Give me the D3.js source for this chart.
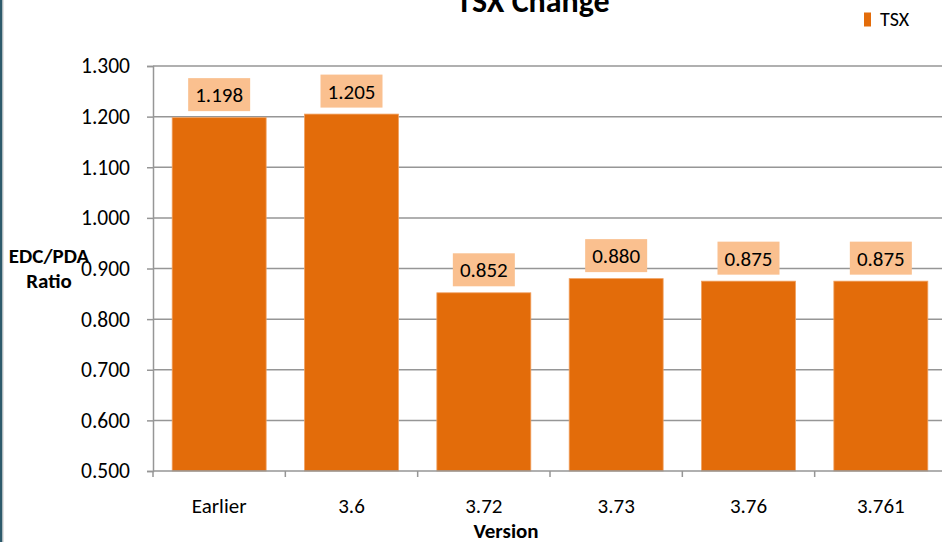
<!DOCTYPE html>
<html><head><meta charset="utf-8">
<script src="https://cdn.jsdelivr.net/npm/d3@7"></script>
<style>body{margin:0;background:#fff}svg{display:block}</style>
</head><body>
<script>
const categories = ["Earlier","3.6","3.72","3.73","3.76","3.761"];
const values = [1.198,1.205,0.852,0.880,0.875,0.875];
const yTicks = [0.5,0.6,0.7,0.8,0.9,1.0,1.1,1.2,1.3];
const seriesName = "TSX";

const W=942,H=542;
const font='Carlito, Calibri, "Liberation Sans", sans-serif';
const svg=d3.select("body").append("svg").attr("width",W).attr("height",H);
svg.append("rect").attr("width",W).attr("height",H).attr("fill","#fff");
// left frame
svg.append("rect").attr("x",0).attr("y",0).attr("width",2.5).attr("height",H).attr("fill","#2d5a6b");
svg.append("rect").attr("x",2.5).attr("y",0).attr("width",1).attr("height",H).attr("fill","#c8c8c8");

const x=d3.scaleBand().domain(categories).range([153,947]).paddingInner(0.29).paddingOuter(0.145);
const y=d3.scaleLinear().domain([0.5,1.3]).range([471,66]);

// gridlines
svg.append("g").selectAll("line").data(yTicks.slice(1)).join("line")
  .attr("x1",153).attr("x2",W).attr("y1",d=>y(d)).attr("y2",d=>y(d))
  .attr("stroke","#969696").attr("stroke-width",1.5);

// y axis
const ya=svg.append("g").attr("transform","translate(153,0)")
  .call(d3.axisLeft(y).tickValues(yTicks).tickFormat(d3.format(".3f")).tickSize(6).tickPadding(17));
ya.select(".domain").attr("stroke","#969696").attr("stroke-width",1.5);
ya.selectAll(".tick line").attr("stroke","#969696").attr("stroke-width",1.5);
ya.selectAll("text").attr("font-family",font).attr("font-size",21.5).attr("fill","#000");

// bars
svg.append("g").selectAll("rect").data(values).join("rect")
  .attr("x",(d,i)=>x(categories[i])).attr("width",x.bandwidth())
  .attr("y",d=>y(d)).attr("height",d=>y(0.5)-y(d))
  .attr("fill","#e36c0a").attr("stroke","#f0a060").attr("stroke-width",0.8);

// x axis
const step=x.step();
const xa=svg.append("g");
xa.append("line").attr("x1",153).attr("x2",W).attr("y1",471).attr("y2",471).attr("stroke","#969696").attr("stroke-width",1.5);
xa.selectAll(".tk").data(d3.range(categories.length+1)).join("line").attr("class","tk")
  .attr("x1",i=>153+i*step).attr("x2",i=>153+i*step).attr("y1",471).attr("y2",477)
  .attr("stroke","#969696").attr("stroke-width",1.5);
xa.selectAll("text").data(categories).join("text")
  .attr("x",d=>x(d)+x.bandwidth()/2).attr("y",513).attr("text-anchor","middle")
  .attr("font-family",font).attr("font-size",21).text(d=>d);

// data labels
const lg=svg.append("g");
values.forEach((v,i)=>{
  const cx=x(categories[i])+x.bandwidth()/2;
  const bottom=y(v)-6.5;
  lg.append("rect").attr("x",cx-31).attr("y",bottom-33).attr("width",62).attr("height",33).attr("fill","#fac08f");
  lg.append("text").attr("x",cx).attr("y",bottom-9).attr("text-anchor","middle")
    .attr("font-family",font).attr("font-size",21).attr("fill","#000").text(d3.format(".3f")(v));
});

// title
svg.append("text").attr("x",533).attr("y",12).attr("text-anchor","middle")
  .attr("font-family",font).attr("font-weight","bold").attr("font-size",32).text("TSX Change");
// legend
svg.append("rect").attr("x",864).attr("y",12.5).attr("width",7).attr("height",14).attr("fill","#e36c0a");
svg.append("text").attr("x",880).attr("y",26).attr("font-family",font).attr("font-size",20).text(seriesName);
// axis titles
const yt=svg.append("text").attr("text-anchor","middle").attr("font-family",font).attr("font-weight","bold").attr("font-size",21);
yt.append("tspan").attr("x",49).attr("y",263).text("EDC/PDA");
yt.append("tspan").attr("x",49).attr("y",288).text("Ratio");
svg.append("text").attr("x",506).attr("y",538).attr("text-anchor","middle")
  .attr("font-family",font).attr("font-weight","bold").attr("font-size",21).text("Version");
</script>
</body></html>
